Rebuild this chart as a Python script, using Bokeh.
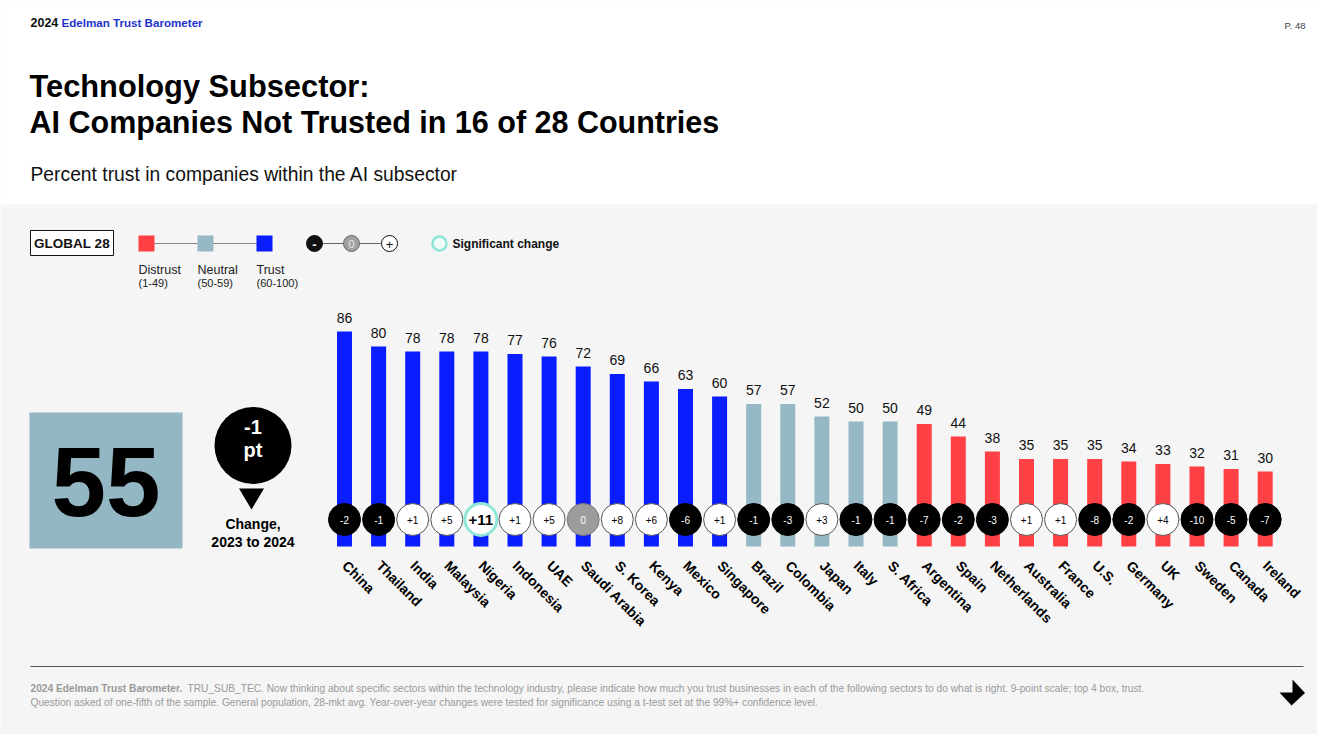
import math
from bokeh.plotting import figure
from bokeh.models import Range1d, ColumnDataSource
from bokeh.core.properties import value
from bokeh.embed import file_html
from bokeh.resources import INLINE

# ---------------- data ----------------
countries = ["China", "Thailand", "India", "Malaysia", "Nigeria", "Indonesia", "UAE",
             "Saudi Arabia", "S. Korea", "Kenya", "Mexico", "Singapore", "Brazil",
             "Colombia", "Japan", "Italy", "S. Africa", "Argentina", "Spain",
             "Netherlands", "Australia", "France", "U.S.", "Germany", "UK", "Sweden",
             "Canada", "Ireland"]
trust = [86, 80, 78, 78, 78, 77, 76, 72, 69, 66, 63, 60, 57, 57, 52, 50, 50, 49, 44,
         38, 35, 35, 35, 34, 33, 32, 31, 30]
change = [-2, -1, 1, 5, 11, 1, 5, 0, 8, 6, -6, 1, -1, -3, 3, -1, -1, -7, -2, -3, 1, 1,
          -8, -2, 4, -10, -5, -7]
significant = ["Nigeria"]
global_trust = 55
global_change = -1

# ---------------- styles ----------------
FONT = "Liberation Sans"
BLUE = "#0a1dff"
NEUTRAL = "#95b9c4"
RED = "#ff4045"
BG = "#f5f5f5"
TEAL = "#8ee6d6"


def band_color(v):
    if v >= 60:
        return BLUE
    if v >= 50:
        return NEUTRAL
    return RED


W, H = 1317, 734
p = figure(width=W, height=H, x_range=Range1d(0, W), y_range=Range1d(H, 0),
           output_backend="svg", toolbar_location=None, min_border=0,
           x_axis_type=None, y_axis_type=None)
p.outline_line_color = None
p.background_fill_color = BG
p.border_fill_color = BG
p.grid.visible = False

# chart scales (index -> x, value -> y)
p.extra_x_ranges = {"idx": Range1d(-10.088, 28.534)}
p.extra_y_ranges = {"val": Range1d(-75.2, 218.4)}


def lab(x, y, text, size, color="#111111", bold=False, align="left", baseline="middle"):
    p.text(x=[x], y=[y], text=[text], text_font_size=f"{size}px", text_color=color,
           text_font_style="bold" if bold else "normal", text_align=align,
           text_baseline=baseline, text_font=value(FONT))


# white header area
p.quad(left=0, right=W, top=0, bottom=204, fill_color="white", line_color=None)

# header
lab(30, 22, "2024", 12.5, "#111111", bold=True)
lab(61, 22, "Edelman Trust Barometer", 11.6, "#2233cc", bold=True)
lab(1305, 25, "P. 48", 9.5, "#444444", align="right")

# title
lab(29, 86, "Technology Subsector:", 30.8, "#000000", bold=True)
lab(29, 121, "AI Companies Not Trusted in 16 of 28 Countries", 30.5, "#000000", bold=True)
lab(30, 174, "Percent trust in companies within the AI subsector", 19.3, "#111111")

# legend: GLOBAL 28 box
p.quad(left=30, right=113, top=230, bottom=255, fill_color="white", line_color="#111111",
       line_width=1)
lab(71.5, 243, "GLOBAL 28", 13.5, "#111111", bold=True, align="center")

# legend: colour scale
p.segment(x0=[146], y0=[243], x1=[264], y1=[243], line_color="#888888", line_width=1)
p.rect(x=[146, 205, 264], y=[243, 243, 243], width=16, height=16,
       fill_color=[RED, NEUTRAL, BLUE], line_color=None)
for x0, t1, t2 in [(138, "Distrust", "(1-49)"), (197, "Neutral", "(50-59)"),
                   (256, "Trust", "(60-100)")]:
    lab(x0, 269, t1, 12.5, "#222222")
    lab(x0, 282.5, t2, 11, "#222222")

# legend: change scale
p.segment(x0=[314], y0=[243], x1=[389], y1=[243], line_color="#666666", line_width=1)
p.scatter(x=[314, 351, 389], y=[243, 243, 243], size=16, marker="circle",
          fill_color=["#111111", "#a0a0a0", "white"],
          line_color=["#111111", "#666666", "#111111"], line_width=1)
lab(314, 243.5, "-", 13, "white", bold=True, align="center")
lab(351, 243.5, "0", 11, "#e8e8e8", align="center")
lab(389, 243.5, "+", 13, "#111111", align="center")
p.scatter(x=[439], y=[243], size=14, marker="circle", fill_color="#effcf8",
          line_color=TEAL, line_width=2.5)
lab(452, 243.5, "Significant change", 12, "#111111", bold=True)

# ---------------- chart ----------------
n = len(countries)
is_sig = [c in significant for c in countries]
fill = ["#000000" if d < 0 else ("#9c9c9c" if d == 0 else "white") for d in change]
ring = [TEAL if s else ("#000000" if d < 0 else ("#777777" if d == 0 else "#555555"))
        for d, s in zip(change, is_sig)]
ring_w = [3 if s else 1 for s in is_sig]
ctext = [("+" if d > 0 else "") + str(d) for d in change]
ccol = ["white" if d <= 0 else "#000000" for d in change]
csize = ["15px" if s else "10px" for s in is_sig]
cstyle = ["bold" if s else "normal" for s in is_sig]

src = ColumnDataSource(dict(
    i=list(range(n)), country=countries, trust=trust, tlabel=[str(v) for v in trust],
    color=[band_color(v) for v in trust], fill=fill, ring=ring, ring_w=ring_w,
    ctext=ctext, ccol=ccol, csize=csize, cstyle=cstyle,
))

p.vbar(x="i", top="trust", bottom=0, width=0.44, fill_color="color", line_color=None,
       source=src, x_range_name="idx", y_range_name="val")
p.text(x="i", y="trust", text="tlabel", y_offset=-14, text_align="center",
       text_baseline="middle", text_font_size="14px", text_color="#111111",
       text_font=value(FONT), source=src, x_range_name="idx", y_range_name="val")

# change markers
p.scatter(x="i", y=519, size=32, marker="circle", fill_color="fill", line_color="ring",
          line_width="ring_w", source=src, x_range_name="idx")
p.text(x="i", y=519.5, text="ctext", text_align="center", text_baseline="middle",
       text_font_size="csize", text_font_style="cstyle", text_color="ccol",
       text_font=value(FONT), source=src, x_range_name="idx")

# country labels
p.text(x="i", y=557, text="country", angle=-math.pi / 4, x_offset=6,
       text_align="left", text_baseline="top", text_font_size="14px",
       text_font_style="bold", text_color="#000000", text_font=value(FONT),
       source=src, x_range_name="idx")

# ---------------- footer ----------------
p.segment(x0=[30], y0=[666], x1=[1303], y1=[666], line_color="#555555", line_width=1)
lab(30, 688, "2024 Edelman Trust Barometer.", 10.2, "#9a9a9a", bold=True)
lab(187, 688, "TRU_SUB_TEC. Now thinking about specific sectors within the technology "
    "industry, please indicate how much you trust businesses in each of the following "
    "sectors to do what is right. 9-point scale; top 4 box, trust.", 10.2, "#9a9a9a")
lab(30, 702, "Question asked of one-fifth of the sample. General population, 28-mkt avg. "
    "Year-over-year changes were tested for significance using a t-test set at the "
    "99%+ confidence level.", 10.2, "#9a9a9a")
p.patch(x=[1279, 1292, 1292, 1304.5, 1291], y=[692, 692, 679, 692.5, 705],
        fill_color="#000000", line_color=None)

# global box
p.quad(left=29, right=182, top=412, bottom=548, fill_color="#94b8c3", line_color=None)
p.scatter(x=[252.5], y=[445], size=77, marker="circle", fill_color="#000000",
          line_color=None)
p.patch(x=[238.5, 263.5, 251], y=[488, 488, 509], fill_color="#000000", line_color=None)
lab(252.5, 523, "Change,", 14, "#000000", bold=True, align="center")
lab(252.5, 541, "2023 to 2024", 14, "#000000", bold=True, align="center")
lab(252.5, 426, f"{global_change:+d}", 20, "white", bold=True, align="center")
lab(252.5, 449, "pt", 20, "white", bold=True, align="center")
lab(105.5, 481, str(global_trust), 98, "#000000", bold=True, align="center")

open("out.html", "w").write(file_html(p, INLINE))
